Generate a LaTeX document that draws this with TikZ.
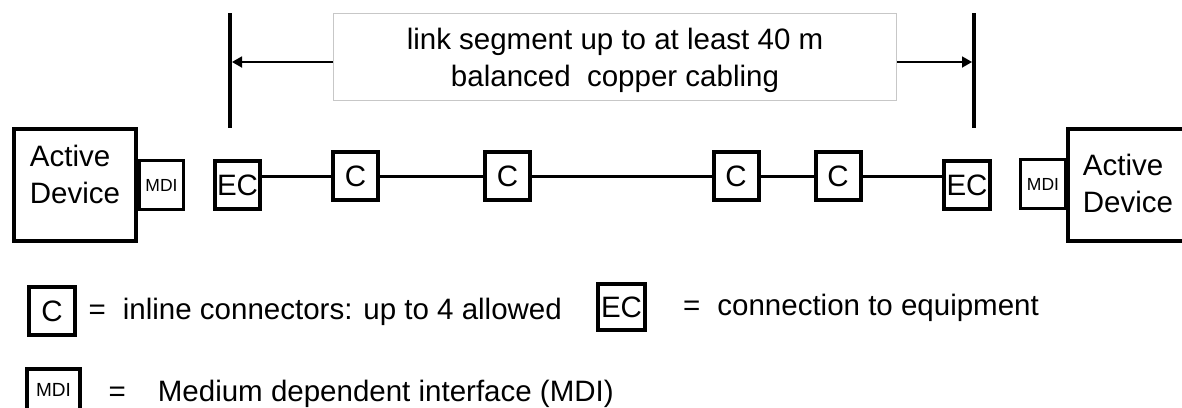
\documentclass[tikz,border=0pt]{standalone}
\usepackage{fontspec}
\setmainfont{Liberation Sans}
\usetikzlibrary{arrows.meta}
\begin{document}
\begin{tikzpicture}[x=1pt,y=-1pt,
  big/.style={font=\fontsize{29.5}{37}\selectfont},
  small/.style={font=\fontsize{17.5}{20}\selectfont},
  devbox/.style={draw, line width=4pt, minimum width=122pt, minimum height=112pt, inner sep=0pt},
  mdibox/.style={draw, line width=3.5pt, minimum width=44pt, minimum height=49pt, inner sep=0pt, small},
  cbox/.style={draw, line width=4pt, minimum width=45pt, minimum height=48pt, inner sep=0pt, big},
  txt/.style={big, inner sep=0pt},
  wire/.style={line width=3pt},
  bar/.style={line width=4pt},
  dimarrow/.style={line width=1.8pt, -{Triangle[length=10pt,width=11pt]}},
]
\useasboundingbox (0,0) rectangle (1182,407);
\clip (0,0) rectangle (1182,407);

% segment label box
\node[draw=black!22, line width=1pt, minimum width=563pt, minimum height=87pt, inner sep=0pt] (seg) at (615,57) {};
\node[txt, align=center] (segt) at (615,60.8) {link segment up to at least 40 m\\balanced\ \ copper cabling};

% vertical bars
\coordinate (bLt) at (230,13);
\coordinate (bLb) at (230,128);
\coordinate (bRt) at (974,13);
\coordinate (bRb) at (974,128);
\draw[bar] (bLt) -- (bLb);
\draw[bar] (bRt) -- (bRb);
\coordinate (arL) at (232,62);
\coordinate (arR) at (972,62);
\draw[dimarrow] (seg.west |- arL) -- (arL);
\draw[dimarrow] (seg.east |- arR) -- (arR);

% left device
\node[devbox] (devL) at (75,185) {};
\node[txt, align=left] (devLt) at (75,174) {Active\\Device};
\node[mdibox] (mdiL) at (161.5,185) {MDI};
\node[cbox] (ecL) at (237.5,185) {EC};

% inline connectors
\node[cbox] (c1) at (355.5,176) {C};
\node[cbox] (c2) at (507.5,176) {C};
\node[cbox] (c3) at (736,176) {C};
\node[cbox] (c4) at (838,176) {C};

% right device
\node[cbox, minimum width=46pt] (ecR) at (967,185) {EC};
\node[mdibox, minimum width=45pt] (mdiR) at (1043,184) {MDI};
\node[devbox, minimum width=124pt] (devR) at (1130,185) {};
\node[txt, align=left] (devRt) at (1128,183.5) {Active\\Device};

% wires
\draw[wire] (ecL.east |- c1.west) -- (c1.west);
\draw[wire] (c1) -- (c2);
\draw[wire] (c2) -- (c3);
\draw[wire] (c3) -- (c4);
\draw[wire] (c4.east) -- (c4.east -| ecR.west);

% legend
\node[cbox, minimum width=46pt] (lgC) at (52,311) {C};
\node[txt, anchor=base west] (lgCt) at (88.5,319) {=\hspace{17pt}inline connectors: up to 4 allowed};
\node[cbox, minimum width=47pt, minimum height=46pt] (lgEC) at (621.5,307) {EC};
\node[txt, anchor=base west] (lgECt) at (683,315) {=\hspace{17pt}connection to equipment};
\node[mdibox, line width=4pt, minimum width=53pt, minimum height=41pt, font=\fontsize{19}{22}\selectfont] (lgM) at (53.5,389.5) {MDI};
\node[txt, anchor=base west] (lgMt) at (108.5,401) {=\hspace{32pt}Medium dependent interface (MDI)};
\end{tikzpicture}
\end{document}
